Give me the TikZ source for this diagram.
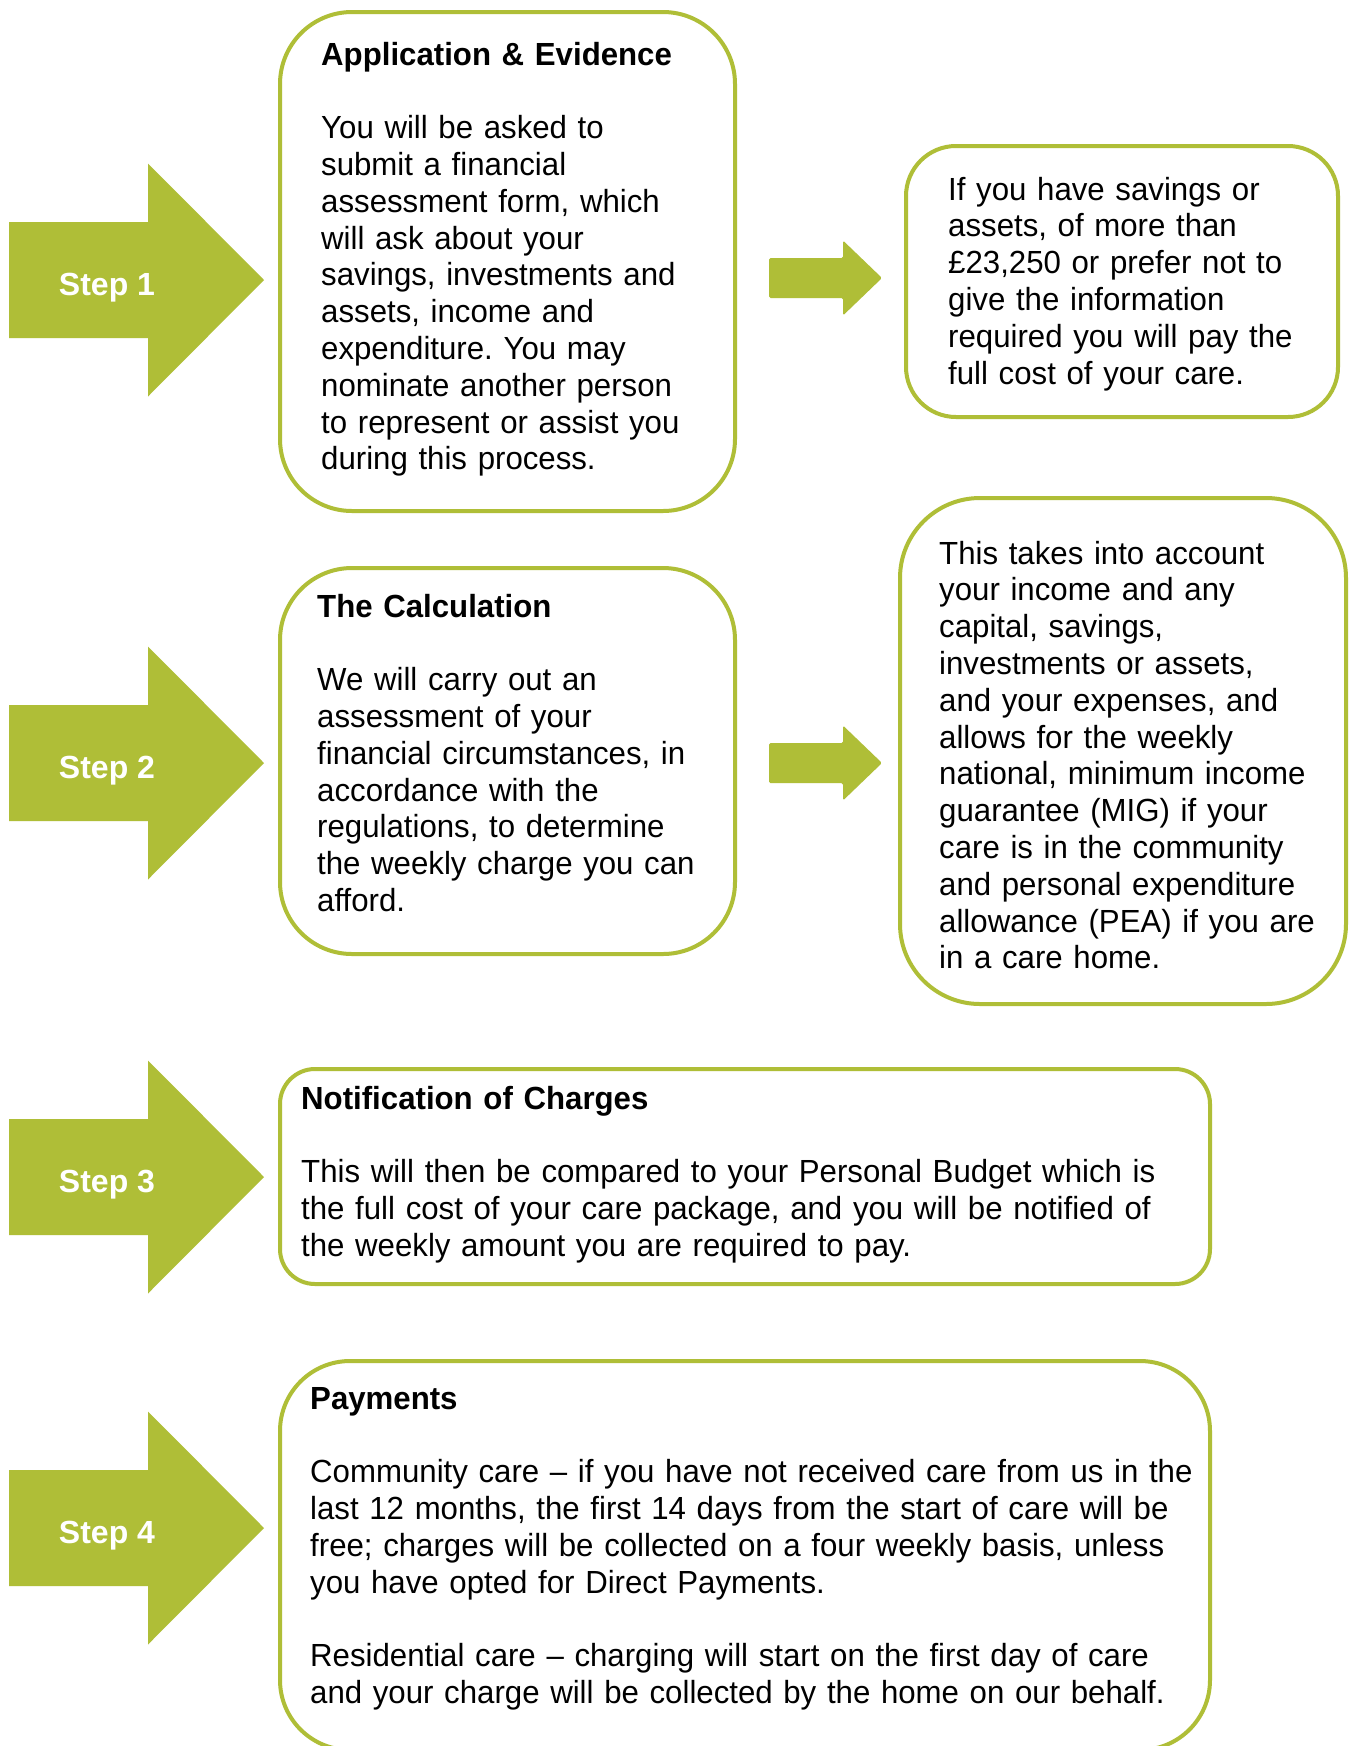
\documentclass[tikz,border=0pt]{standalone}
\usepackage{fontspec}
\setmainfont{Liberation Sans}[FakeStretch=0.975]
\newfontfamily\stepfont{Liberation Sans}
\definecolor{grn}{RGB}{175,190,55}
\frenchspacing
\begin{document}
\begin{tikzpicture}[x=1pt,y=-1pt,
  panel/.style={draw=grn, line width=4pt, rounded corners=#1, anchor=north west, inner sep=0pt, outer sep=0pt},
  txt/.style={anchor=base west, inner sep=0pt, align=left, text width=#1,
    font=\fontsize{32}{36.8}\selectfont},
  steplbl/.style={anchor=base, inner sep=0pt, text=white, font=\stepfont\bfseries\fontsize{32}{36}\selectfont},
  pics/bigarrow/.style={code={\fill[grn] (0,-58) -- (139,-58) -- (139,-116.5) -- (255,0) -- (139,116.5) -- (139,58) -- (0,58) -- cycle;}},
  pics/smallarrow/.style={code={\fill[grn,rounded corners=1.5pt] (0,-20) -- (74,-20) -- (74,-37.5) -- (113,0) -- (74,37.5) -- (74,20) -- (0,20) -- cycle;}}
]
\fill[white] (0,0) rectangle (1351,1746);
\useasboundingbox (0,0) rectangle (1351,1746);

% boxes
\node (box1) [panel=72pt, minimum width=455pt, minimum height=499pt] at (280,12) {};
\node (rbox1) [panel=50pt, minimum width=432pt, minimum height=271pt] at (906,146) {};
\node (box2) [panel=72pt, minimum width=455pt, minimum height=386pt] at (280,568) {};
\node (rbox2) [panel=80pt, minimum width=446pt, minimum height=506pt] at (900,498) {};
\node (box3) [panel=35pt, minimum width=930pt, minimum height=215pt] at (280,1069) {};
\node (box4) [panel=70pt, minimum width=930pt, minimum height=389pt] at (280,1361) {};

% step arrows
\pic at (9,280) {bigarrow};
\pic at (9,763) {bigarrow};
\pic at (9,1177) {bigarrow};
\pic at (9,1528) {bigarrow};
\node (s1) [steplbl] at (107,295.5) {Step 1};
\node (s2) [steplbl] at (107,778.5) {Step 2};
\node (s3) [steplbl] at (107,1192.5) {Step 3};
\node (s4) [steplbl] at (107,1543.5) {Step 4};

% small arrows
\pic at (769,278) {smallarrow};
\pic at (769,763) {smallarrow};

% texts
\node (t1) [txt=430pt] at (321,65) {\textbf{Application \& Evidence}\\[36.8pt]
You will be asked to\\
submit a financial\\
assessment form, which\\
will ask about your\\
savings, investments and\\
assets, income and\\
expenditure. You may\\
nominate another person\\
to represent or assist you\\
during this process.};

\node (rt1) [txt=400pt] at (948,200) {If you have savings or\\
assets, of more than\\
£23,250 or prefer not to\\
give the information\\
required you will pay the\\
full cost of your care.};

\node (t2) [txt=430pt] at (317,617) {\textbf{The Calculation}\\[36.8pt]
We will carry out an\\
assessment of your\\
financial circumstances, in\\
accordance with the\\
regulations, to determine\\
the weekly charge you can\\
afford.};

\node (rt2) [txt=420pt] at (939,564) {This takes into account\\
your income and any\\
capital, savings,\\
investments or assets,\\
and your expenses, and\\
allows for the weekly\\
national, minimum income\\
guarantee (MIG) if your\\
care is in the community\\
and personal expenditure\\
allowance (PEA) if you are\\
in a care home.};

\node (t3) [txt=950pt] at (301,1109) {\textbf{Notification of Charges}\\[36.8pt]
This will then be compared to your Personal Budget which is\\
the full cost of your care package, and you will be notified of\\
the weekly amount you are required to pay.};

\node (t4) [txt=950pt] at (310,1409) {\textbf{Payments}\\[36.8pt]
Community care – if you have not received care from us in the\\
last 12 months, the first 14 days from the start of care will be\\
free; charges will be collected on a four weekly basis, unless\\
you have opted for Direct Payments.\\[36.8pt]
Residential care – charging will start on the first day of care\\
and your charge will be collected by the home on our behalf.};
\end{tikzpicture}
\end{document}
